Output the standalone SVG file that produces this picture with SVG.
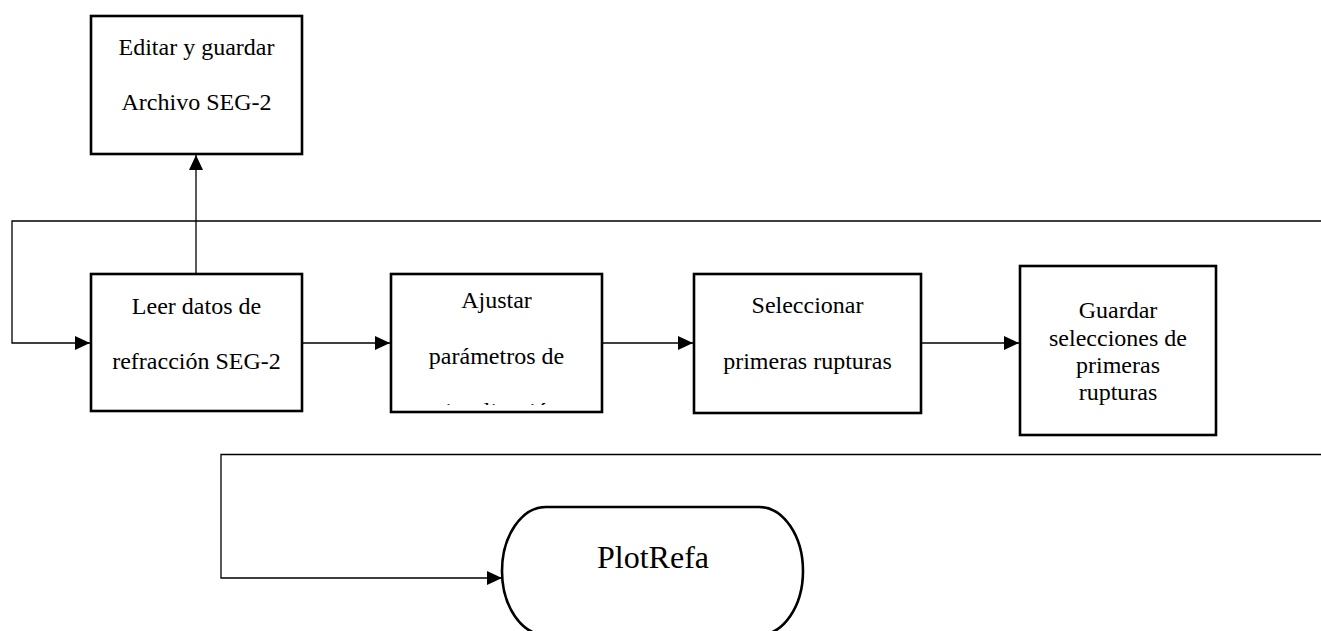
<svg xmlns="http://www.w3.org/2000/svg" width="1321" height="631" viewBox="0 0 1321 631">
  <style>
    .box { fill: #ffffff; stroke: #000000; stroke-width: 2.6; }
    .conn { fill: none; stroke: #000000; stroke-width: 1.3; }
    .t { font-family: "Liberation Serif", "Times New Roman", serif; font-size: 24px; fill: #000000; text-anchor: middle; }
    .big { font-size: 32px; }
  </style>
  <defs>
    <marker id="arr" markerUnits="userSpaceOnUse" markerWidth="16" markerHeight="15" refX="15" refY="7" orient="auto">
      <path d="M0,0 L15,7 L0,14 z" fill="#000000"/>
    </marker>
    <clipPath id="clipAjustar">
      <rect x="392" y="275" width="209" height="130"/>
    </clipPath>
  </defs>
  <rect width="1321" height="631" fill="#ffffff"/>

  <g id="connectors">
    <line class="conn" x1="196" y1="274" x2="196" y2="155" marker-end="url(#arr)"/>
    <polyline class="conn" points="1321,221 12,221 12,343 90,343" marker-end="url(#arr)"/>
    <line class="conn" x1="302" y1="343" x2="390" y2="343" marker-end="url(#arr)"/>
    <line class="conn" x1="602" y1="343" x2="693" y2="343" marker-end="url(#arr)"/>
    <line class="conn" x1="921" y1="343" x2="1019" y2="343" marker-end="url(#arr)"/>
    <polyline class="conn" points="1321,454.5 221,454.5 221,578 502,578" marker-end="url(#arr)"/>
  </g>

  <g id="editar">
    <rect class="box" x="91" y="16" width="211" height="138"/>
    <text class="t" x="196.5" y="55">Editar y guardar</text>
    <text class="t" x="196.5" y="110">Archivo SEG-2</text>
  </g>

  <g id="leer">
    <rect class="box" x="91" y="274" width="211" height="137"/>
    <text class="t" x="196.5" y="314">Leer datos de</text>
    <text class="t" x="196.5" y="369">refracción SEG-2</text>
  </g>

  <g id="ajustar">
    <rect class="box" x="391" y="274" width="211" height="138"/>
    <g clip-path="url(#clipAjustar)">
      <text class="t" x="496.5" y="308">Ajustar</text>
      <text class="t" x="496.5" y="364">parámetros de</text>
      <text class="t" x="496.5" y="419">visualización</text>
    </g>
  </g>

  <g id="seleccionar">
    <rect class="box" x="694" y="274" width="227" height="139"/>
    <text class="t" x="807.5" y="313">Seleccionar</text>
    <text class="t" x="807.5" y="369">primeras rupturas</text>
  </g>

  <g id="guardar">
    <rect class="box" x="1020" y="266" width="196" height="169"/>
    <text class="t" x="1118" y="318">Guardar</text>
    <text class="t" x="1118" y="345.5">selecciones de</text>
    <text class="t" x="1118" y="373">primeras</text>
    <text class="t" x="1118" y="400">rupturas</text>
  </g>

  <g id="plotrefa">
    <rect class="box" x="502" y="507" width="301" height="128" rx="44" ry="64"/>
    <text class="t big" x="653" y="568">PlotRefa</text>
  </g>
</svg>
